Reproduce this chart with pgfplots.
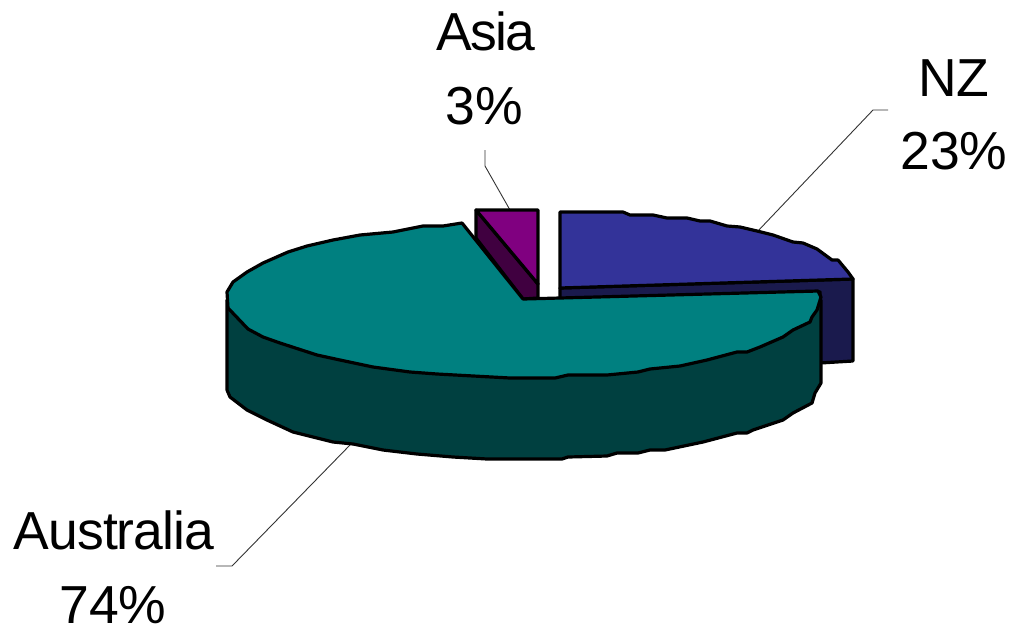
\documentclass[border=0pt]{standalone}
\usepackage{pgfplots}
\usepackage{fontspec}
\setmainfont{Liberation Sans}
\pgfplotsset{compat=1.18}

\definecolor{teal1}{HTML}{008080}
\definecolor{teal2}{HTML}{004040}
\definecolor{blue1}{HTML}{333399}
\definecolor{blue2}{HTML}{1A1A4D}
\definecolor{purple1}{HTML}{800080}
\definecolor{purple2}{HTML}{400040}

\tikzset{
  slice/.style={draw=black, line width=3.2pt, line join=round},
  leader/.style={draw=black!80, line width=0.9pt},
  lab/.style={anchor=base, inner sep=0pt, font=\fontsize{53.5}{53.5}\selectfont},
}

\begin{document}
\begin{tikzpicture}
\begin{axis}[
  width=1011pt, height=625pt, scale only axis,
  xmin=0, xmax=1011, ymin=0, ymax=625,
  y dir=reverse,
  hide axis,
  clip=false,
]

% leader lines
\addplot[leader] coordinates {(485,150) (485,166) (510,210)};
\addplot[leader] coordinates {(888,110) (873,110) (757,232)};
\addplot[leader] coordinates {(350,445) (232,566) (216,566)};

% NZ side and top
\addplot[slice, fill=blue2] coordinates {
  (560,288) (853,279) (853,361) (820,363) (820,292) (560,300)
} --cycle;
\addplot[slice, fill=blue1] coordinates {
  (560,212) (623,212) (630,215) (653,215) (667,218) (687,218) (700,221) (710,221)
  (727,226) (740,227) (757,231) (773,235) (793,242) (803,243) (817,249) (832,260)
  (838,260) (848,272) (853,279) (560,288)
} --cycle;

% Asia side and top
\addplot[slice, fill=purple2] coordinates {
  (476,210) (538,284) (538,298) (523,299) (476,238)
} --cycle;
\addplot[slice, fill=purple1] coordinates {
  (476,210) (538,210) (538,284)
} --cycle;

% Australia side and top
\addplot[slice, fill=teal2] coordinates {
  (821,300) (821,383) (815,393) (812,403) (793,413) (783,420) (753,430) (747,433) (737,433) (703,442)
  (665,450) (650,450) (638,453) (617,453) (607,456) (568,457) (562,459) (510,459)
  (487,459) (453,457) (417,454) (383,450) (353,444) (333,442) (293,432) (267,420)
  (247,410) (230,397) (227,390) (227,300)
} --cycle;
\addplot[slice, fill=teal1] coordinates {
  (523,299) (818,291) (821,297) (817,310) (812,317) (810,322) (793,330) (783,337) (760,347) (747,352) (737,352)
  (707,360) (680,366) (650,369) (638,372) (607,375) (568,375) (555,378) (510,378)
  (437,374) (410,372) (373,367) (340,360) (317,355) (280,343) (263,337) (248,329)
  (228,308) (227,292) (233,282) (247,272) (263,263) (288,252) (307,246) (333,240)
  (360,235) (393,232) (423,226) (443,226) (462,223)
} --cycle;

% labels
\node[lab] at (axis cs:486,50) {\addfontfeature{LetterSpace=-3.3}Asia};
\node[lab] at (axis cs:484.5,124) {3\%};
\node[lab] at (axis cs:954,96) {NZ};
\node[lab] at (axis cs:954,169) {23\%};
\node[lab] at (axis cs:114,549) {\addfontfeature{LetterSpace=-1.7}Australia};
\node[lab] at (axis cs:113,623) {74\%};

\coordinate (tl) at (axis cs:0,0);
\coordinate (br) at (axis cs:1011,625);
\end{axis}
\pgfresetboundingbox
\path[use as bounding box] (tl) rectangle (br);
\end{tikzpicture}
\end{document}
